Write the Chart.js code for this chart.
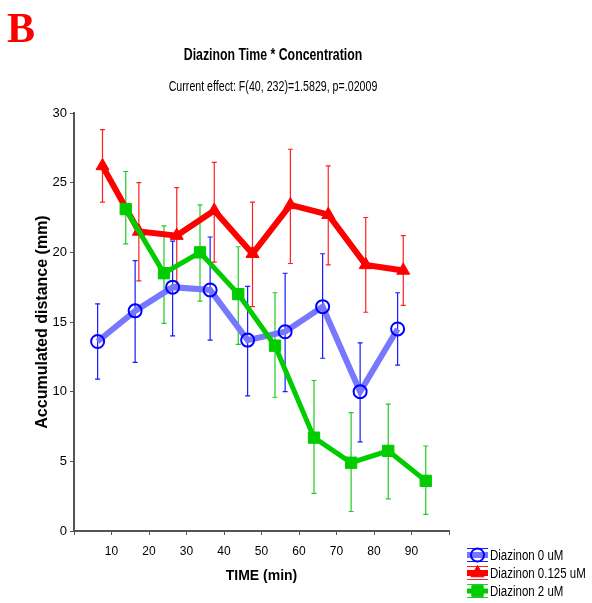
<!DOCTYPE html>
<html>
<head>
<meta charset="utf-8">
<script src="https://cdn.jsdelivr.net/npm/chart.js@4.4.1/dist/chart.umd.min.js"></script>
<style>
  body { margin: 0; background: #fff; }
  #wrap { position: relative; width: 592px; height: 603px; }
  #panel { position: absolute; left: 7px; top: 4px; font: bold 42px "Liberation Serif", serif; color: #ff0000; }
  /* the original uses a narrow face, squeeze the regular one */
  #title, #subtitle { position: absolute; left: 0; width: 546px; text-align: center; transform-origin: 50% 50%; font-family: "Liberation Sans", Arial, sans-serif; }
  #title { top: 46px; font-size: 16px; font-weight: bold; transform: scaleX(0.77); }
  #subtitle { top: 78px; font-size: 14px; transform: scaleX(0.76); }
</style>
</head>
<body>
<div id="wrap">
  <canvas id="chart" width="592" height="603"></canvas>
  <div id="panel">B</div>
  <div id="title">Diazinon Time * Concentration</div>
  <div id="subtitle">Current effect: F(40, 232)=1.5829, p=.02009</div>
</div>
<script>
// x positions (min) - each group is shifted a little so the error bars don't overlap
const timeBlue = [6.3, 16.3, 26.3, 36.3, 46.3, 56.3, 66.3, 76.3, 86.3];
const timeRed = [7.6, 17.3, 27.4, 37.4, 47.6, 57.7, 67.8, 77.8, 87.8];
const timeGreen = [13.8, 24.0, 33.6, 43.8, 53.6, 64.0, 73.9, 83.8, 93.8];

// mean accumulated distance (mm)
const meanBlue = [13.6, 15.8, 17.5, 17.3, 13.7, 14.3, 16.1, 10.0, 14.5];
const meanRed = [26.2, 21.5, 21.2, 23.0, 19.9, 23.4, 22.7, 19.1, 18.7];
const meanGreen = [23.1, 18.5, 20.0, 17.0, 13.3, 6.7, 4.9, 5.75, 3.6];

// error bars (lower / upper)
const lowBlue = [10.9, 12.1, 14.0, 13.7, 9.7, 10.0, 12.4, 6.4, 11.9];
const highBlue = [16.3, 19.4, 20.8, 21.1, 17.55, 18.5, 19.9, 13.5, 17.1];
const lowRed = [23.6, 17.95, 17.7, 19.3, 16.1, 19.2, 19.1, 15.7, 16.2];
const highRed = [28.8, 25.0, 24.65, 26.45, 23.6, 27.4, 26.2, 22.5, 21.2];
const lowGreen = [20.6, 14.9, 16.5, 13.4, 9.6, 2.7, 1.4, 2.3, 1.2];
const highGreen = [25.8, 21.9, 23.4, 20.4, 17.1, 10.8, 8.5, 9.1, 6.1];

const seriesNames = ['Diazinon 0 uM', 'Diazinon 0.125 uM', 'Diazinon 2 uM'];
const xTicks = [10, 20, 30, 40, 50, 60, 70, 80, 90];

function pts(xs, ys) {
    return xs.map((x, i) => ({ x: x, y: ys[i] }));
}

const sans = '"Liberation Sans", Arial, sans-serif';

// error bars, drawn under the lines
const errorBars = {
    id: 'errorBars',
    beforeDatasetsDraw(chart) {
        const ctx = chart.ctx;
        const y = chart.scales.y;
        chart.data.datasets.forEach((ds, i) => {
            const meta = chart.getDatasetMeta(i);
            ctx.save();
            ctx.strokeStyle = ds.errColor;
            ctx.lineWidth = 1.2;
            meta.data.forEach((p, j) => {
                const top = y.getPixelForValue(ds.hi[j]);
                const bot = y.getPixelForValue(ds.lo[j]);
                ctx.beginPath();
                ctx.moveTo(p.x, top);
                ctx.lineTo(p.x, bot);
                ctx.moveTo(p.x - 2.5, top);
                ctx.lineTo(p.x + 2.5, top);
                ctx.moveTo(p.x - 2.5, bot);
                ctx.lineTo(p.x + 2.5, bot);
                ctx.stroke();
            });
            ctx.restore();
        });
    }
};

// legend in the lower right corner
const cornerLegend = {
    id: 'cornerLegend',
    afterDraw(chart) {
        const ctx = chart.ctx;
        chart.data.datasets.forEach((ds, i) => {
            const cy = 555 + i * 18;
            const x0 = 467, x1 = 488, cx = (x0 + x1) / 2;
            ctx.save();
            ctx.strokeStyle = ds.errColor;
            ctx.lineWidth = 1;
            ctx.beginPath();
            ctx.moveTo(x0, cy - 6.5); ctx.lineTo(x1, cy - 6.5);
            ctx.moveTo(x0, cy + 6.5); ctx.lineTo(x1, cy + 6.5);
            ctx.stroke();
            ctx.strokeStyle = ds.borderColor;
            ctx.lineWidth = ds.borderWidth;
            ctx.beginPath();
            ctx.moveTo(x0, cy); ctx.lineTo(x1, cy);
            ctx.stroke();
            ctx.fillStyle = ds.pointBackgroundColor;
            ctx.strokeStyle = ds.pointBorderColor;
            ctx.lineWidth = ds.pointBorderWidth;
            Chart.helpers.drawPoint(ctx, { pointStyle: ds.pointStyle, radius: ds.pointRadius, borderWidth: ds.pointBorderWidth }, cx, cy);
            // narrow text
            ctx.translate(490, cy + 1);
            ctx.scale(0.82, 1);
            ctx.fillStyle = '#000';
            ctx.font = '14px ' + sans;
            ctx.textBaseline = 'middle';
            ctx.fillText(ds.label, 0, 0);
            ctx.restore();
        });
    }
};

new Chart(document.getElementById('chart'), {
    type: 'line',
    data: {
        datasets: [{
            label: seriesNames[0],
            data: pts(timeBlue, meanBlue),
            lo: lowBlue, hi: highBlue,
            errColor: '#1a1aff',
            borderColor: '#7878ff',
            borderWidth: 6,
            pointStyle: 'circle',
            pointRadius: 6.5,
            pointBorderWidth: 2,
            pointBorderColor: '#0000ff',
            pointBackgroundColor: 'rgba(255,255,255,0)',
            order: 3
        }, {
            label: seriesNames[1],
            data: pts(timeRed, meanRed),
            lo: lowRed, hi: highRed,
            errColor: '#ff2020',
            borderColor: '#ff0000',
            borderWidth: 6,
            pointStyle: 'triangle',
            pointRadius: 7.5,
            pointBorderWidth: 1,
            pointBorderColor: '#ff0000',
            pointBackgroundColor: '#ff0000',
            order: 2
        }, {
            label: seriesNames[2],
            data: pts(timeGreen, meanGreen),
            lo: lowGreen, hi: highGreen,
            errColor: '#22cc22',
            borderColor: '#00cc00',
            borderWidth: 5,
            pointStyle: 'rect',
            pointRadius: 8,
            pointBorderWidth: 1,
            pointBorderColor: '#00cc00',
            pointBackgroundColor: '#00cc00',
            order: 1
        }]
    },
    options: {
        responsive: false,
        animation: false,
        layout: { padding: { top: 113, right: 143, left: 0, bottom: 0 } },
        plugins: {
            legend: { display: false },
            tooltip: { enabled: false }
        },
        scales: {
            x: {
                type: 'linear',
                min: 0,
                max: 100,
                afterBuildTicks: (s) => { s.ticks = [0].concat(xTicks, [100]).map(v => ({ value: v })); },
                afterFit: (s) => { s.height = 72; },
                ticks: {
                    color: '#000',
                    padding: 9.5,
                    maxRotation: 0,
                    font: { family: sans, size: 12 },
                    callback: (v) => xTicks.includes(v) ? String(v) : ''
                },
                grid: { drawOnChartArea: false, tickLength: 4, color: '#555', lineWidth: 1 },
                border: { color: '#555', width: 2 },
                title: {
                    display: true,
                    text: 'TIME (min)',
                    color: '#000',
                    font: { family: sans, size: 14, weight: 'bold' },
                    padding: { top: 0, bottom: 18.5 }
                }
            },
            y: {
                min: 0,
                max: 30,
                afterFit: (s) => { s.width = 74; },
                ticks: {
                    stepSize: 5,
                    color: '#000',
                    padding: 3,
                    font: { family: sans, size: 13 }
                },
                grid: { drawOnChartArea: false, tickLength: 4, color: '#555', lineWidth: 1 },
                border: { color: '#555', width: 2 },
                title: {
                    display: true,
                    text: 'Accumulated distance (mm)',
                    color: '#000',
                    font: { family: sans, size: 16, weight: 'bold' },
                    padding: { top: 33, bottom: 0 }
                }
            }
        }
    },
    plugins: [errorBars, cornerLegend]
});
</script>
</body>
</html>
